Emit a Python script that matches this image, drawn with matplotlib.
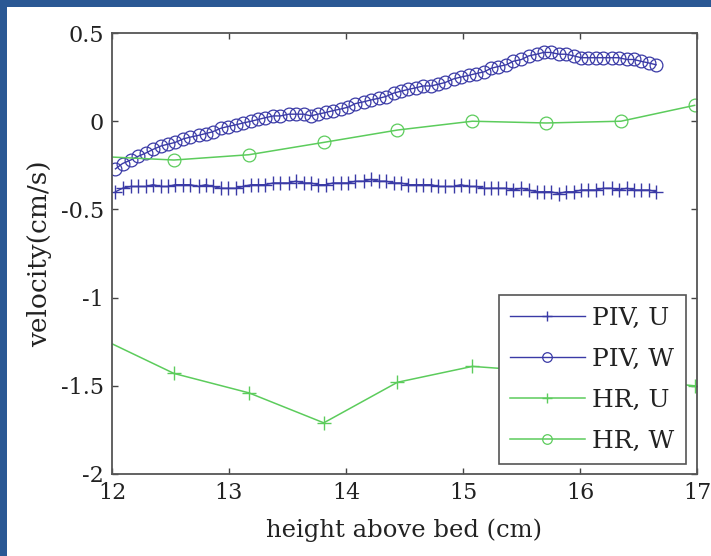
import matplotlib
matplotlib.use("Agg")
import matplotlib.pyplot as plt
from matplotlib.patches import Rectangle

plt.rcParams['axes.unicode_minus'] = False
plt.rcParams['font.family'] = ['DejaVu Serif']

piv_x = [12.03, 12.09, 12.16, 12.22, 12.29, 12.35, 12.42, 12.48, 12.54, 12.61,
         12.67, 12.74, 12.80, 12.86, 12.93, 12.99, 13.06, 13.12, 13.19, 13.25,
         13.31, 13.38, 13.44, 13.51, 13.57, 13.64, 13.70, 13.76, 13.83, 13.89,
         13.96, 14.02, 14.08, 14.15, 14.21, 14.28, 14.34, 14.41, 14.47, 14.53,
         14.60, 14.66, 14.73, 14.79, 14.85, 14.92, 14.98, 15.05, 15.11, 15.18,
         15.24, 15.30, 15.37, 15.43, 15.50, 15.56, 15.63, 15.69, 15.75, 15.82,
         15.88, 15.95, 16.01, 16.07, 16.14, 16.20, 16.27, 16.33, 16.40, 16.46,
         16.52, 16.59, 16.65]
piv_u = [-0.40, -0.38, -0.37, -0.37, -0.37, -0.36, -0.37, -0.37, -0.36, -0.36,
         -0.36, -0.37, -0.36, -0.37, -0.38, -0.38, -0.38, -0.37, -0.36, -0.36,
         -0.36, -0.35, -0.35, -0.35, -0.34, -0.35, -0.35, -0.36, -0.36, -0.35,
         -0.35, -0.35, -0.34, -0.34, -0.33, -0.34, -0.34, -0.35, -0.35, -0.36,
         -0.36, -0.36, -0.36, -0.37, -0.37, -0.37, -0.36, -0.37, -0.37, -0.38,
         -0.38, -0.38, -0.38, -0.39, -0.38, -0.39, -0.40, -0.40, -0.40, -0.41,
         -0.40, -0.40, -0.39, -0.39, -0.39, -0.38, -0.38, -0.39, -0.38, -0.39,
         -0.39, -0.39, -0.40]
piv_w = [-0.27, -0.24, -0.22, -0.20, -0.18, -0.16, -0.14, -0.13, -0.12, -0.10,
         -0.09, -0.08, -0.07, -0.06, -0.04, -0.03, -0.02, -0.01, 0.00, 0.01,
         0.02, 0.03, 0.03, 0.04, 0.04, 0.04, 0.03, 0.04, 0.05, 0.06,
         0.07, 0.08, 0.10, 0.11, 0.12, 0.13, 0.14, 0.16, 0.17, 0.18,
         0.19, 0.20, 0.20, 0.21, 0.22, 0.24, 0.25, 0.26, 0.27, 0.28,
         0.30, 0.31, 0.32, 0.34, 0.35, 0.37, 0.38, 0.39, 0.39, 0.38,
         0.38, 0.37, 0.36, 0.36, 0.36, 0.36, 0.36, 0.36, 0.35, 0.35,
         0.34, 0.33, 0.32]

hr_x = [11.90, 12.53, 13.17, 13.81, 14.44, 15.08, 15.71, 16.35, 16.98]
hr_u = [-1.23, -1.43, -1.54, -1.71, -1.48, -1.39, -1.42, -1.46, -1.50]
hr_w = [-0.20, -0.22, -0.19, -0.12, -0.05, 0.00, -0.01, 0.00, 0.09]

x_ticks = [12, 13, 14, 15, 16, 17]
y_ticks = [-2, -1.5, -1, -0.5, 0, 0.5]
y_tick_labels = ['-2', '-1.5', '-1', '-0.5', '0', '0.5']

piv_color = '#3a3aa6'
hr_color = '#5ccc5c'

fig = plt.figure(figsize=(7.11, 5.56), dpi=100)
fig.patch.set_facecolor('#2a5894')
fig.patches.append(Rectangle((7 / 711, 0), 1, 1 - 7 / 556, transform=fig.transFigure,
                             facecolor='white', edgecolor='none', zorder=-10))

ax = fig.add_axes([0.1575, 0.1475, 0.8228, 0.7931])
ax.plot(piv_x, piv_u, '-', color=piv_color, marker='+', ms=9.5, mew=1.0, lw=1.0, label='PIV, U')
ax.plot(piv_x, piv_w, '-', color=piv_color, marker='o', ms=9.2, mfc='none', mew=0.9, lw=1.0, label='PIV, W')
ax.plot(hr_x, hr_u, '-', color=hr_color, marker='+', ms=9.5, mew=1.0, lw=1.1, label='HR, U')
ax.plot(hr_x, hr_w, '-', color=hr_color, marker='o', ms=9.2, mfc='none', mew=0.9, lw=1.1, label='HR, W')

ax.set_xlim(12, 17)
ax.set_ylim(-2, 0.5)
ax.set_xticks(x_ticks)
ax.set_xticklabels([str(t) for t in x_ticks])
ax.set_yticks(y_ticks)
ax.set_yticklabels(y_tick_labels)
ax.tick_params(direction='in', length=4.5, width=1.0, color='#444444',
               top=True, right=True, labelsize=16, labelcolor='#222222')
ax.tick_params(axis='x', pad=6)
ax.tick_params(axis='y', pad=6)
for s in ax.spines.values():
    s.set_color('#555555')
    s.set_linewidth(1.3)

ax.set_xlabel('height above bed (cm)', fontsize=17.5, color='#222222', labelpad=10)
ax.set_ylabel('velocity(cm/s)', fontsize=19, color='#222222', labelpad=6)

leg = ax.legend(loc='lower right', bbox_to_anchor=(0.981, 0.023), borderaxespad=0,
                fontsize=18, handlelength=3.0, handletextpad=0.3, labelspacing=0.72,
                borderpad=0.45, fancybox=False, framealpha=1, edgecolor='#555555',
                markerscale=0.75)
leg.get_frame().set_linewidth(1.2)
for t in leg.get_texts():
    t.set_color('#222222')

fig.savefig('out.png', dpi=100, facecolor=fig.get_facecolor())
